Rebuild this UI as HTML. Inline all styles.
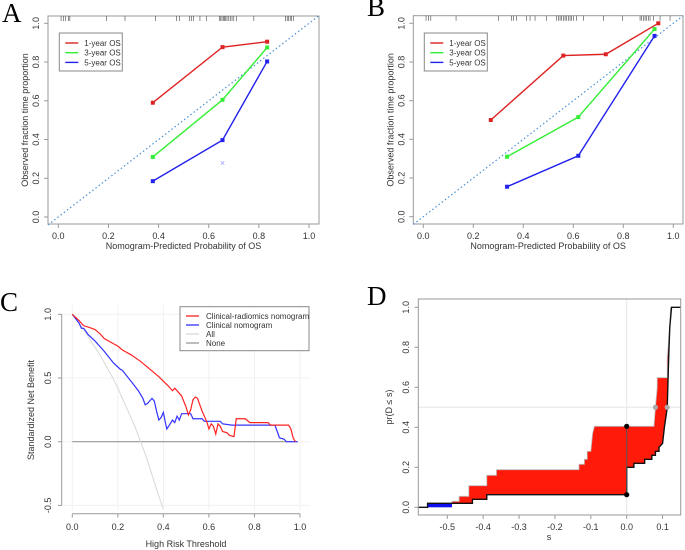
<!DOCTYPE html>
<html><head><meta charset="utf-8"><style>
html,body{margin:0;padding:0;background:#fff;}
svg{display:block;font-family:"Liberation Sans",sans-serif;}
.t{font-size:9px;fill:#333;}
.lg{font-size:8px;fill:#333;}
.lt{font-family:"Liberation Serif",serif;font-size:27px;fill:#000;}
</style></head><body>
<svg id="fig" width="685" height="550" viewBox="0 0 685 550"></svg>
<script>
// ---- Panel A data ----
const aX1=[0.377,0.655,0.833], aY1=[0.59,0.877,0.905];
const aX3=[0.377,0.655,0.833], aY3=[0.31,0.605,0.875];
const aX5=[0.377,0.655,0.833], aY5=[0.185,0.397,0.803];
const aRug=[0.011,0.02,0.029,0.04,0.046,0.193,0.266,0.388,0.471,0.484,0.523,0.532,0.539,0.565,0.592,0.642,0.648,0.653,0.658,0.663,0.668,0.673,0.68,0.686,0.693,0.7,0.71,0.78,0.907,0.913,0.918,0.925,0.931,0.938];
// ---- Panel B data ----
const bX1=[0.27,0.56,0.73,0.94], bY1=[0.5,0.833,0.84,1.0];
const bX3=[0.335,0.62,0.925], bY3=[0.31,0.515,0.97];
const bX5=[0.335,0.62,0.925], bY5=[0.155,0.315,0.935];
const bRug=[0.011,0.02,0.03,0.131,0.3,0.353,0.36,0.373,0.413,0.427,0.447,0.493,0.533,0.54,0.547,0.553,0.56,0.567,0.573,0.58,0.587,0.593,0.6,0.613,0.64,0.72,0.797,0.867,0.873,0.88,0.887,0.893,0.9,0.907,0.92,0.947,0.987];
const calTicks=[0,0.2,0.4,0.6,0.8,1.0];
const calTickLabels=["0.0","0.2","0.4","0.6","0.8","1.0"];
// ---- Panel C data ----
const cRedT=[0,0.03,0.05,0.07,0.1,0.12,0.14,0.18,0.2,0.22,0.26,0.3,0.34,0.38,0.42,0.44,0.45,0.47,0.48,0.5,0.51,0.52,0.53,0.54,0.55,0.57,0.59,0.6,0.61,0.62,0.63,0.64,0.65,0.66,0.68,0.69,0.71,0.72,0.76,0.78,0.86,0.87,0.95,0.96,0.97,0.98];
const cRedV=[1,0.95,0.91,0.9,0.88,0.85,0.81,0.77,0.75,0.72,0.68,0.63,0.57,0.51,0.44,0.40,0.42,0.38,0.36,0.27,0.21,0.25,0.33,0.35,0.34,0.24,0.16,0.10,0.14,0.12,0.06,0.14,0.12,0.08,0.07,0.05,0.04,0.18,0.18,0.15,0.15,0.13,0.13,0.10,0.03,0];
const cBlueT=[0,0.03,0.04,0.05,0.07,0.1,0.14,0.18,0.21,0.22,0.26,0.29,0.31,0.32,0.33,0.35,0.36,0.37,0.38,0.39,0.4,0.41,0.415,0.43,0.44,0.45,0.46,0.47,0.48,0.52,0.53,0.57,0.58,0.65,0.66,0.70,0.89,0.9,0.91,0.93,0.94,0.99];
const cBlueV=[1,0.93,0.89,0.89,0.84,0.79,0.71,0.62,0.57,0.56,0.47,0.40,0.34,0.29,0.30,0.34,0.32,0.24,0.17,0.19,0.23,0.14,0.10,0.14,0.17,0.15,0.20,0.17,0.22,0.22,0.18,0.18,0.16,0.16,0.14,0.13,0.13,0.08,0.03,0.02,0,0];
const cAllT=[0,0.025,0.05,0.075,0.1,0.125,0.15,0.175,0.2,0.225,0.25,0.275,0.3,0.325,0.35,0.375,0.4];
const cAllV=[1,0.94,0.88,0.81,0.74,0.67,0.59,0.51,0.42,0.32,0.22,0.12,0,-0.12,-0.26,-0.40,-0.53];
const cXTicks=[0,0.2,0.4,0.6,0.8,1.0];
const cXLabels=["0.0","0.2","0.4","0.6","0.8","1.0"];
const cYTicks=[1.0,0.5,0,-0.5];
const cYLabels=["1.0","0.5","0.0","-0.5"];
// ---- Panel D data ----
const dLowS=[-0.58,-0.555,-0.555,-0.43,-0.43,-0.39,-0.39,0,0,0.02,0.02,0.05,0.05,0.07,0.07,0.08,0.08,0.09,0.09,0.1,0.105,0.11,0.113,0.117,0.12,0.125,0.15];
const dLowY=[0,0,0.02,0.02,0.04,0.04,0.063,0.063,0.2,0.2,0.22,0.22,0.24,0.24,0.26,0.26,0.28,0.28,0.3,0.32,0.4,0.46,0.5,0.75,0.9,1.0,1.0];
const dUpS=[-0.555,-0.487,-0.487,-0.467,-0.467,-0.44,-0.44,-0.39,-0.39,-0.363,-0.363,-0.133,-0.133,-0.118,-0.118,-0.11,-0.11,-0.1,-0.095,-0.09,0.076,0.08,0.085,0.085,0.113,0.113,0.12,0.122];
const dUpY=[0.02,0.02,0.03,0.03,0.055,0.055,0.108,0.108,0.16,0.16,0.188,0.188,0.215,0.215,0.24,0.24,0.28,0.28,0.37,0.405,0.405,0.5,0.6,0.648,0.648,0.75,0.9,1.0];
const dXTicks=[-0.5,-0.4,-0.3,-0.2,-0.1,0,0.1];
const dXLabels=["-0.5","-0.4","-0.3","-0.2","-0.1","0.0","0.1"];
const dYTicks=[0,0.2,0.4,0.6,0.8,1.0];
const dYLabels=["0.0","0.2","0.4","0.6","0.8","1.0"];

const NS="http://www.w3.org/2000/svg";
const svg=document.getElementById('fig');
function mk(tag,attrs,parent){const e=document.createElementNS(NS,tag);for(const k in attrs)e.setAttribute(k,attrs[k]);(parent||svg).appendChild(e);return e;}
function txt(x,y,s,cls,rot,anchor,parent){const e=mk('text',{x:x,y:y,class:cls||'t','text-anchor':anchor||'middle'},parent);if(rot)e.setAttribute('transform','rotate(-90 '+x+' '+y+')');e.textContent=s;return e;}
function pts(xs,ys,sx,sy){return xs.map((v,i)=>sx(v)+','+sy(ys[i])).join(' ');}

function calPanel(g,o,series,rug,letterPos,letter,legendX){
  const sx=v=>o.x0+v*(o.x1-o.x0), sy=v=>o.y0+v*(o.y1-o.y0);
  const box=mk('rect',{x:o.bl,y:o.bt,width:o.br-o.bl,height:o.bb-o.bt,fill:'none',stroke:'#999','stroke-width':1},g);
  
  
  const diag=mk('line',{x1:o.bl,y1:sy((o.bl-o.x0)/(o.x1-o.x0)),x2:o.br,y2:sy((o.br-o.x0)/(o.x1-o.x0)),stroke:'#4a90d9','stroke-width':1.2,'stroke-dasharray':'1.5,2.5'},g);
  
  
  rug.forEach(v=>{const l=mk('line',{x1:sx(v),x2:sx(v),y1:o.bt,y2:o.bt+5,stroke:'#444','stroke-width':0.6},g);
    
    });
  calTicks.forEach((v,i)=>{
    mk('line',{x1:sx(v),x2:sx(v),y1:o.bb,y2:o.bb+4,stroke:'#999'},g);
    const t=txt(sx(v),o.bb+15,calTickLabels[i],'t',false,'middle',g);
    
    
    mk('line',{x1:o.bl,x2:o.bl-4,y1:sy(v),y2:sy(v),stroke:'#999'},g);
    const u=txt(o.bl-9,sy(v),calTickLabels[i],'t',true,'middle',g);
    
    
  });
  const xt=txt((o.bl+o.br)/2,o.bb+25,'Nomogram-Predicted Probability of OS','t',false,'middle',g);
  
  
  const yt=txt(o.bl-20,(o.bt+o.bb)/2,'Observed fraction time proportion','t',true,'middle',g);
  
  
  series.forEach(s=>{
    const pl=mk('polyline',{points:pts(s.x,s.y,sx,sy),fill:'none',stroke:s.c,'stroke-width':1.4},g);
    
    
    s.x.forEach((v,i)=>{const r=mk('rect',{x:sx(v)-2,y:sy(s.y[i])-2,width:4,height:4,fill:s.c},g);
      
      });
  });
  const L=mk('g',{},g);
  
  
  mk('rect',{x:legendX,y:33,width:63,height:38,fill:'#fff',stroke:'#888'},L);
  series.forEach((s,i)=>{const yy=43+i*9.7;
    mk('line',{x1:legendX+6,x2:legendX+19,y1:yy,y2:yy,stroke:s.c,'stroke-width':1.4},L);
    const e=txt(legendX+25,yy+3,s.lab,'lg',false,'start',L);
    
    });
  const le=txt(letterPos[0],letterPos[1],letter,'lt',false,'start',g);
  
  
  return {sx,sy};
}
const gA=mk('g',{});


const A=calPanel(gA,{x0:58.3,x1:309,y0:217,y1:23.3,bl:48,br:319,bt:16,bb:224},
 [{x:aX1,y:aY1,c:'#dd2222',n:'one-year',lab:'1-year OS'},{x:aX3,y:aY3,c:'#33ee33',n:'three-year',lab:'3-year OS'},{x:aX5,y:aY5,c:'#2222ee',n:'five-year',lab:'5-year OS'}],aRug,[2,22],'A',59.3);
const xm=txt(A.sx(0.655),A.sy(0.28)+3,'×','t',false,'middle',gA);
xm.setAttribute('style','fill:#9999ff');


const gB=mk('g',{});


calPanel(gB,{x0:423.3,x1:673.3,y0:216.7,y1:23.3,bl:413.3,br:683,bt:15.7,bb:224},
 [{x:bX1,y:bY1,c:'#dd2222',n:'one-year',lab:'1-year OS'},{x:bX3,y:bY3,c:'#33ee33',n:'three-year',lab:'3-year OS'},{x:bX5,y:bY5,c:'#2222ee',n:'five-year',lab:'5-year OS'}],bRug,[367,16],'B',424.3);

// ===== Panel C =====
const gC=mk('g',{});


const cx=v=>72.3+v*227.7, cy=v=>441.7-v*127.4;
cXTicks.forEach(v=>mk('line',{x1:cx(v),x2:cx(v),y1:305,y2:510,stroke:'#f1f1f1'},gC));
cYTicks.forEach(v=>mk('line',{x1:62,x2:310,y1:cy(v),y2:cy(v),stroke:'#f1f1f1'},gC));
mk('line',{x1:61.7,x2:61.7,y1:cy(1),y2:cy(-0.5),stroke:'#999'},gC);
mk('line',{x1:cx(0),x2:cx(1),y1:513.7,y2:513.7,stroke:'#999'},gC);
cXTicks.forEach((v,i)=>{mk('line',{x1:cx(v),x2:cx(v),y1:513.7,y2:517.5,stroke:'#999'},gC);
  const t=txt(cx(v),530,cXLabels[i],'t',false,'middle',gC);
  
  });
cYTicks.forEach((v,i)=>{mk('line',{x1:61.7,x2:58,y1:cy(v),y2:cy(v),stroke:'#999'},gC);
  const t=txt(51,cy(v),cYLabels[i],'t',true,'middle',gC);
  
  });
const cxt=txt(186,547,'High Risk Threshold','t',false,'middle',gC);


const cyt=txt(34,410,'Standardized Net Benefit','t',true,'middle',gC);


const clip=mk('clipPath',{id:'clipC'},gC);
mk('rect',{x:60,y:300,width:260,height:cy(-0.5)-300+6},clip);
const none=mk('line',{x1:cx(0),x2:cx(0.99),y1:cy(0),y2:cy(0),stroke:'#999','stroke-width':1.2},gC);


const allL=mk('polyline',{points:pts(cAllT,cAllV,cx,cy),fill:'none',stroke:'#d8d8d8','stroke-width':1,'clip-path':'url(#clipC)'},gC);


const blueL=mk('polyline',{points:pts(cBlueT,cBlueV,cx,cy),fill:'none',stroke:'#3333ff','stroke-width':1.2},gC);


const redL=mk('polyline',{points:pts(cRedT,cRedV,cx,cy),fill:'none',stroke:'#ff2222','stroke-width':1.2},gC);


const LC=mk('g',{},gC);


mk('rect',{x:180,y:306.7,width:129,height:44,fill:'#fff',stroke:'#888'},LC);
[['Clinical-radiomics nomogram','#ff2222'],['Clinical nomogram','#3333ff'],['All','#d8d8d8'],['None','#999']].forEach((e,i)=>{
  const yy=316+i*9;
  mk('line',{x1:186,x2:199,y1:yy,y2:yy,stroke:e[1],'stroke-width':1.3},LC);
  const t=txt(206,yy+3,e[0],'lg',false,'start',LC);
  
  });
const lc=txt(0,311,'C','lt',false,'start',gC);



// ===== Panel D =====
const gD=mk('g',{});


const dx=v=>626.7+v*358.8, dy=v=>507.3-v*200;
mk('line',{x1:dx(0),x2:dx(0),y1:299,y2:515,stroke:'#e6e6e6'},gD);
mk('line',{x1:418.3,x2:680.7,y1:dy(0.5),y2:dy(0.5),stroke:'#e6e6e6'},gD);
const blue=mk('rect',{x:dx(-0.555),y:dy(0.02),width:dx(-0.487)-dx(-0.555),height:dy(0)-dy(0.02),fill:'#1010ee'},gD);


const polyUp=dUpS.map((v,i)=>dx(v)+','+dy(dUpY[i]));
const lowRev=[];for(let i=dLowS.length-1;i>=0;i--){if(dLowS[i]>=-0.487&&dLowS[i]<=0.122)lowRev.push(dx(dLowS[i])+','+dy(dLowY[i]));}
const red=mk('polygon',{points:polyUp.concat([dx(0.122)+','+dy(1)],lowRev,[dx(-0.487)+','+dy(0.02)]).join(' '),fill:'#ff1a0a'},gD);


const upL=mk('polyline',{points:polyUp.join(' '),fill:'none',stroke:'#bbb','stroke-width':0.8},gD);


const lowL=mk('polyline',{points:pts(dLowS,dLowY,dx,dy),fill:'none',stroke:'#111','stroke-width':1.4},gD);


mk('line',{x1:dx(0),x2:dx(0),y1:dy(0.063),y2:dy(0.405),stroke:'#555','stroke-width':1},gD);
[[0,0.405,'#000'],[0,0.063,'#000'],[0.08,0.5,'#aaa'],[0.113,0.5,'#aaa']].forEach(p=>{
  const c=mk('circle',{cx:dx(p[0]),cy:dy(p[1]),r:2.6,fill:p[2]},gD);
  
  });
const fr=mk('rect',{x:418.3,y:299,width:262.4,height:216,fill:'none',stroke:'#999'},gD);


dXTicks.forEach((v,i)=>{mk('line',{x1:dx(v),x2:dx(v),y1:515,y2:519,stroke:'#999'},gD);
  const t=txt(dx(v),530,dXLabels[i],'t',false,'middle',gD);
  
  });
dYTicks.forEach((v,i)=>{mk('line',{x1:418.3,x2:414.5,y1:dy(v),y2:dy(v),stroke:'#999'},gD);
  const t=txt(409,dy(v),dYLabels[i],'t',true,'middle',gD);
  
  });
const dxt=txt(549,540,'s','t',false,'middle',gD);


const dyt=txt(392,407,'pr(D ≤ s)','t',true,'middle',gD);


const ld=txt(367,305,'D','lt',false,'start',gD);


</script>
</body></html>
